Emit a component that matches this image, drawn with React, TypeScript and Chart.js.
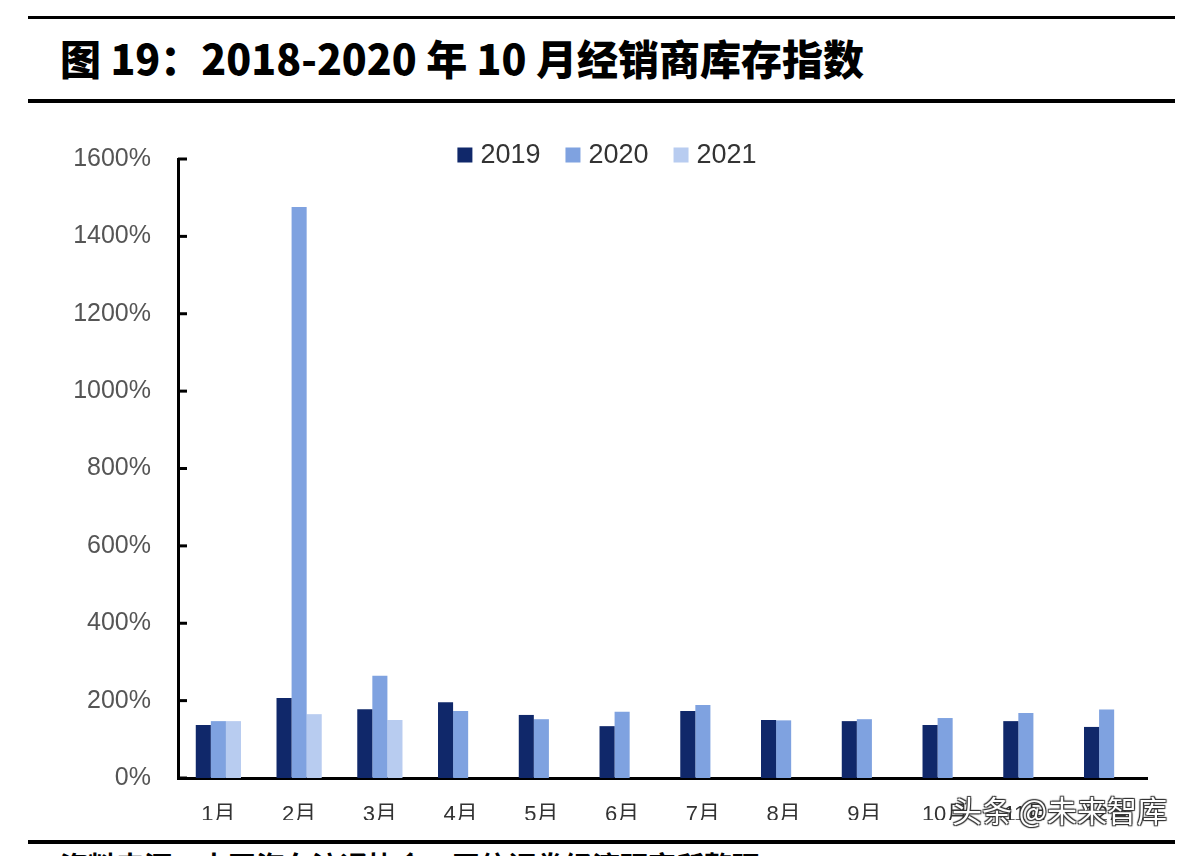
import React, { useEffect, useRef } from "react";
import { Chart, registerables } from "chart.js";

Chart.register(...registerables);

const categories = ["1月", "2月", "3月", "4月", "5月", "6月", "7月", "8月", "9月", "10月", "11月", "12月"];
const seriesLabels = ["2019", "2020", "2021"];
const values2019 = [137, 207, 178, 196, 163, 134, 173, 150, 147, 137, 147, 132];
const values2020 = [147, 1476, 264, 173, 152, 171, 189, 149, 152, 155, 168, 177];
const values2021: (number | null)[] = [147, 165, 150, null, null, null, null, null, null, null, null, null];
const yMin = 0;
const yMax = 1600;
const yStep = 200;
const seriesColors = ["#10286a", "#7fa2e0", "#b8ccf0"];

const CANVAS_TOP = 120;

const inwardTicks = {
  id: "inwardTicks",
  afterDraw(chart: any) {
    const { ctx, chartArea } = chart;
    const y = chart.scales.y;
    ctx.save();
    ctx.strokeStyle = "#000";
    ctx.lineWidth = 3;
    y.ticks.forEach((t: any) => {
      const py = y.getPixelForValue(t.value);
      ctx.beginPath();
      ctx.moveTo(chartArea.left, py);
      ctx.lineTo(chartArea.left + 9, py);
      ctx.stroke();
    });
    ctx.restore();
  },
};

const customLegend = {
  id: "customLegend",
  afterDraw(chart: any) {
    const { ctx } = chart;
    ctx.save();
    ctx.font = "27px 'Liberation Sans', Arial, sans-serif";
    ctx.textBaseline = "middle";
    const box = 15;
    const gap = 8;
    const itemGap = 25;
    const items = chart.data.datasets.map((d: any) => ({
      label: d.label,
      color: d.backgroundColor,
      w: box + gap + ctx.measureText(d.label).width,
    }));
    const total = items.reduce((a: number, it: any) => a + it.w, 0) + itemGap * (items.length - 1);
    let x = 607 - total / 2;
    const cy = 155 - CANVAS_TOP;
    items.forEach((it: any) => {
      ctx.fillStyle = it.color;
      ctx.fillRect(x, cy - box / 2, box, box);
      ctx.fillStyle = "#333";
      ctx.fillText(it.label, x + box + gap, cy + 1);
      x += it.w + itemGap;
    });
    ctx.restore();
  },
};

function BarChart() {
  const ref = useRef<HTMLCanvasElement>(null);
  useEffect(() => {
    if (!ref.current) return;
    const chart = new Chart(ref.current, {
      type: "bar",
      data: {
        labels: categories,
        datasets: [
          { label: seriesLabels[0], data: values2019, backgroundColor: seriesColors[0] },
          { label: seriesLabels[1], data: values2020, backgroundColor: seriesColors[1] },
          { label: seriesLabels[2], data: values2021, backgroundColor: seriesColors[2] },
        ],
      },
      options: {
        animation: false,
        responsive: false,
        maintainAspectRatio: false,
        layout: { padding: { top: 39, right: 45, left: 0, bottom: 0 } },
        datasets: { bar: { categoryPercentage: 0.56, barPercentage: 1.0 } },
        plugins: { legend: { display: false }, tooltip: { enabled: false } },
        scales: {
          x: {
            grid: { display: false },
            border: { display: true, color: "#000", width: 3 },
            ticks: {
              color: "#333",
              font: { size: 22, family: "'Liberation Sans', 'Noto Sans CJK SC', sans-serif" },
              padding: 16,
              maxRotation: 0,
            },
            afterFit: (s: any) => {
              s.height = 700 - (778 - CANVAS_TOP);
            },
          },
          y: {
            min: yMin,
            max: yMax,
            grid: { display: false },
            border: { display: true, color: "#000", width: 3 },
            ticks: {
              stepSize: yStep,
              color: "#555",
              padding: 19,
              font: { size: 25, family: "'Liberation Sans', Arial, sans-serif" },
              callback: (v: any) => v + "%",
            },
            afterFit: (s: any) => {
              s.width = 178;
            },
          },
        },
      },
      plugins: [inwardTicks, customLegend],
    });
    return () => chart.destroy();
  }, []);
  return (
    <canvas
      ref={ref}
      width={1192}
      height={700}
      style={{ position: "absolute", left: 0, top: CANVAS_TOP, width: 1192, height: 700 }}
    />
  );
}

export default function App() {
  return (
    <div
      style={{
        position: "absolute",
        left: 0,
        top: 0,
        width: 1192,
        height: 856,
        overflow: "hidden",
        background: "#fff",
      }}
    >
      <div style={{ position: "absolute", left: 28, top: 16, width: 1147, height: 3, background: "#000" }} />
      <div
        style={{
          position: "absolute",
          left: 60,
          top: 30,
          fontFamily: "'Noto Sans CJK SC', sans-serif",
          fontWeight: 900,
          fontSize: 41,
          lineHeight: "54px",
          color: "#000",
          whiteSpace: "nowrap",
        }}
      >
        图 19：2018-2020 年 10 月经销商库存指数
      </div>
      <div style={{ position: "absolute", left: 28, top: 99, width: 1147, height: 4, background: "#000" }} />
      <BarChart />
      <div
        style={{
          position: "absolute",
          left: 952,
          top: 789,
          fontFamily: "'Noto Sans CJK SC', sans-serif",
          fontSize: 30,
          lineHeight: "40px",
          color: "#fff",
          whiteSpace: "nowrap",
          textShadow: "1px 1px 1px #333, -1px -1px 1px #333, 1px -1px 1px #333, -1px 1px 1px #333",
        }}
      >
        头条 @未来智库
      </div>
      <div style={{ position: "absolute", left: 28, top: 840, width: 1147, height: 4, background: "#000" }} />
      <div
        style={{
          position: "absolute",
          left: 60,
          top: 847,
          fontFamily: "'Noto Sans CJK SC', sans-serif",
          fontWeight: 700,
          fontSize: 28,
          lineHeight: "36px",
          color: "#000",
          whiteSpace: "nowrap",
        }}
      >
        资料来源：中国汽车流通协会，国信证券经济研究所整理
      </div>
    </div>
  );
}
